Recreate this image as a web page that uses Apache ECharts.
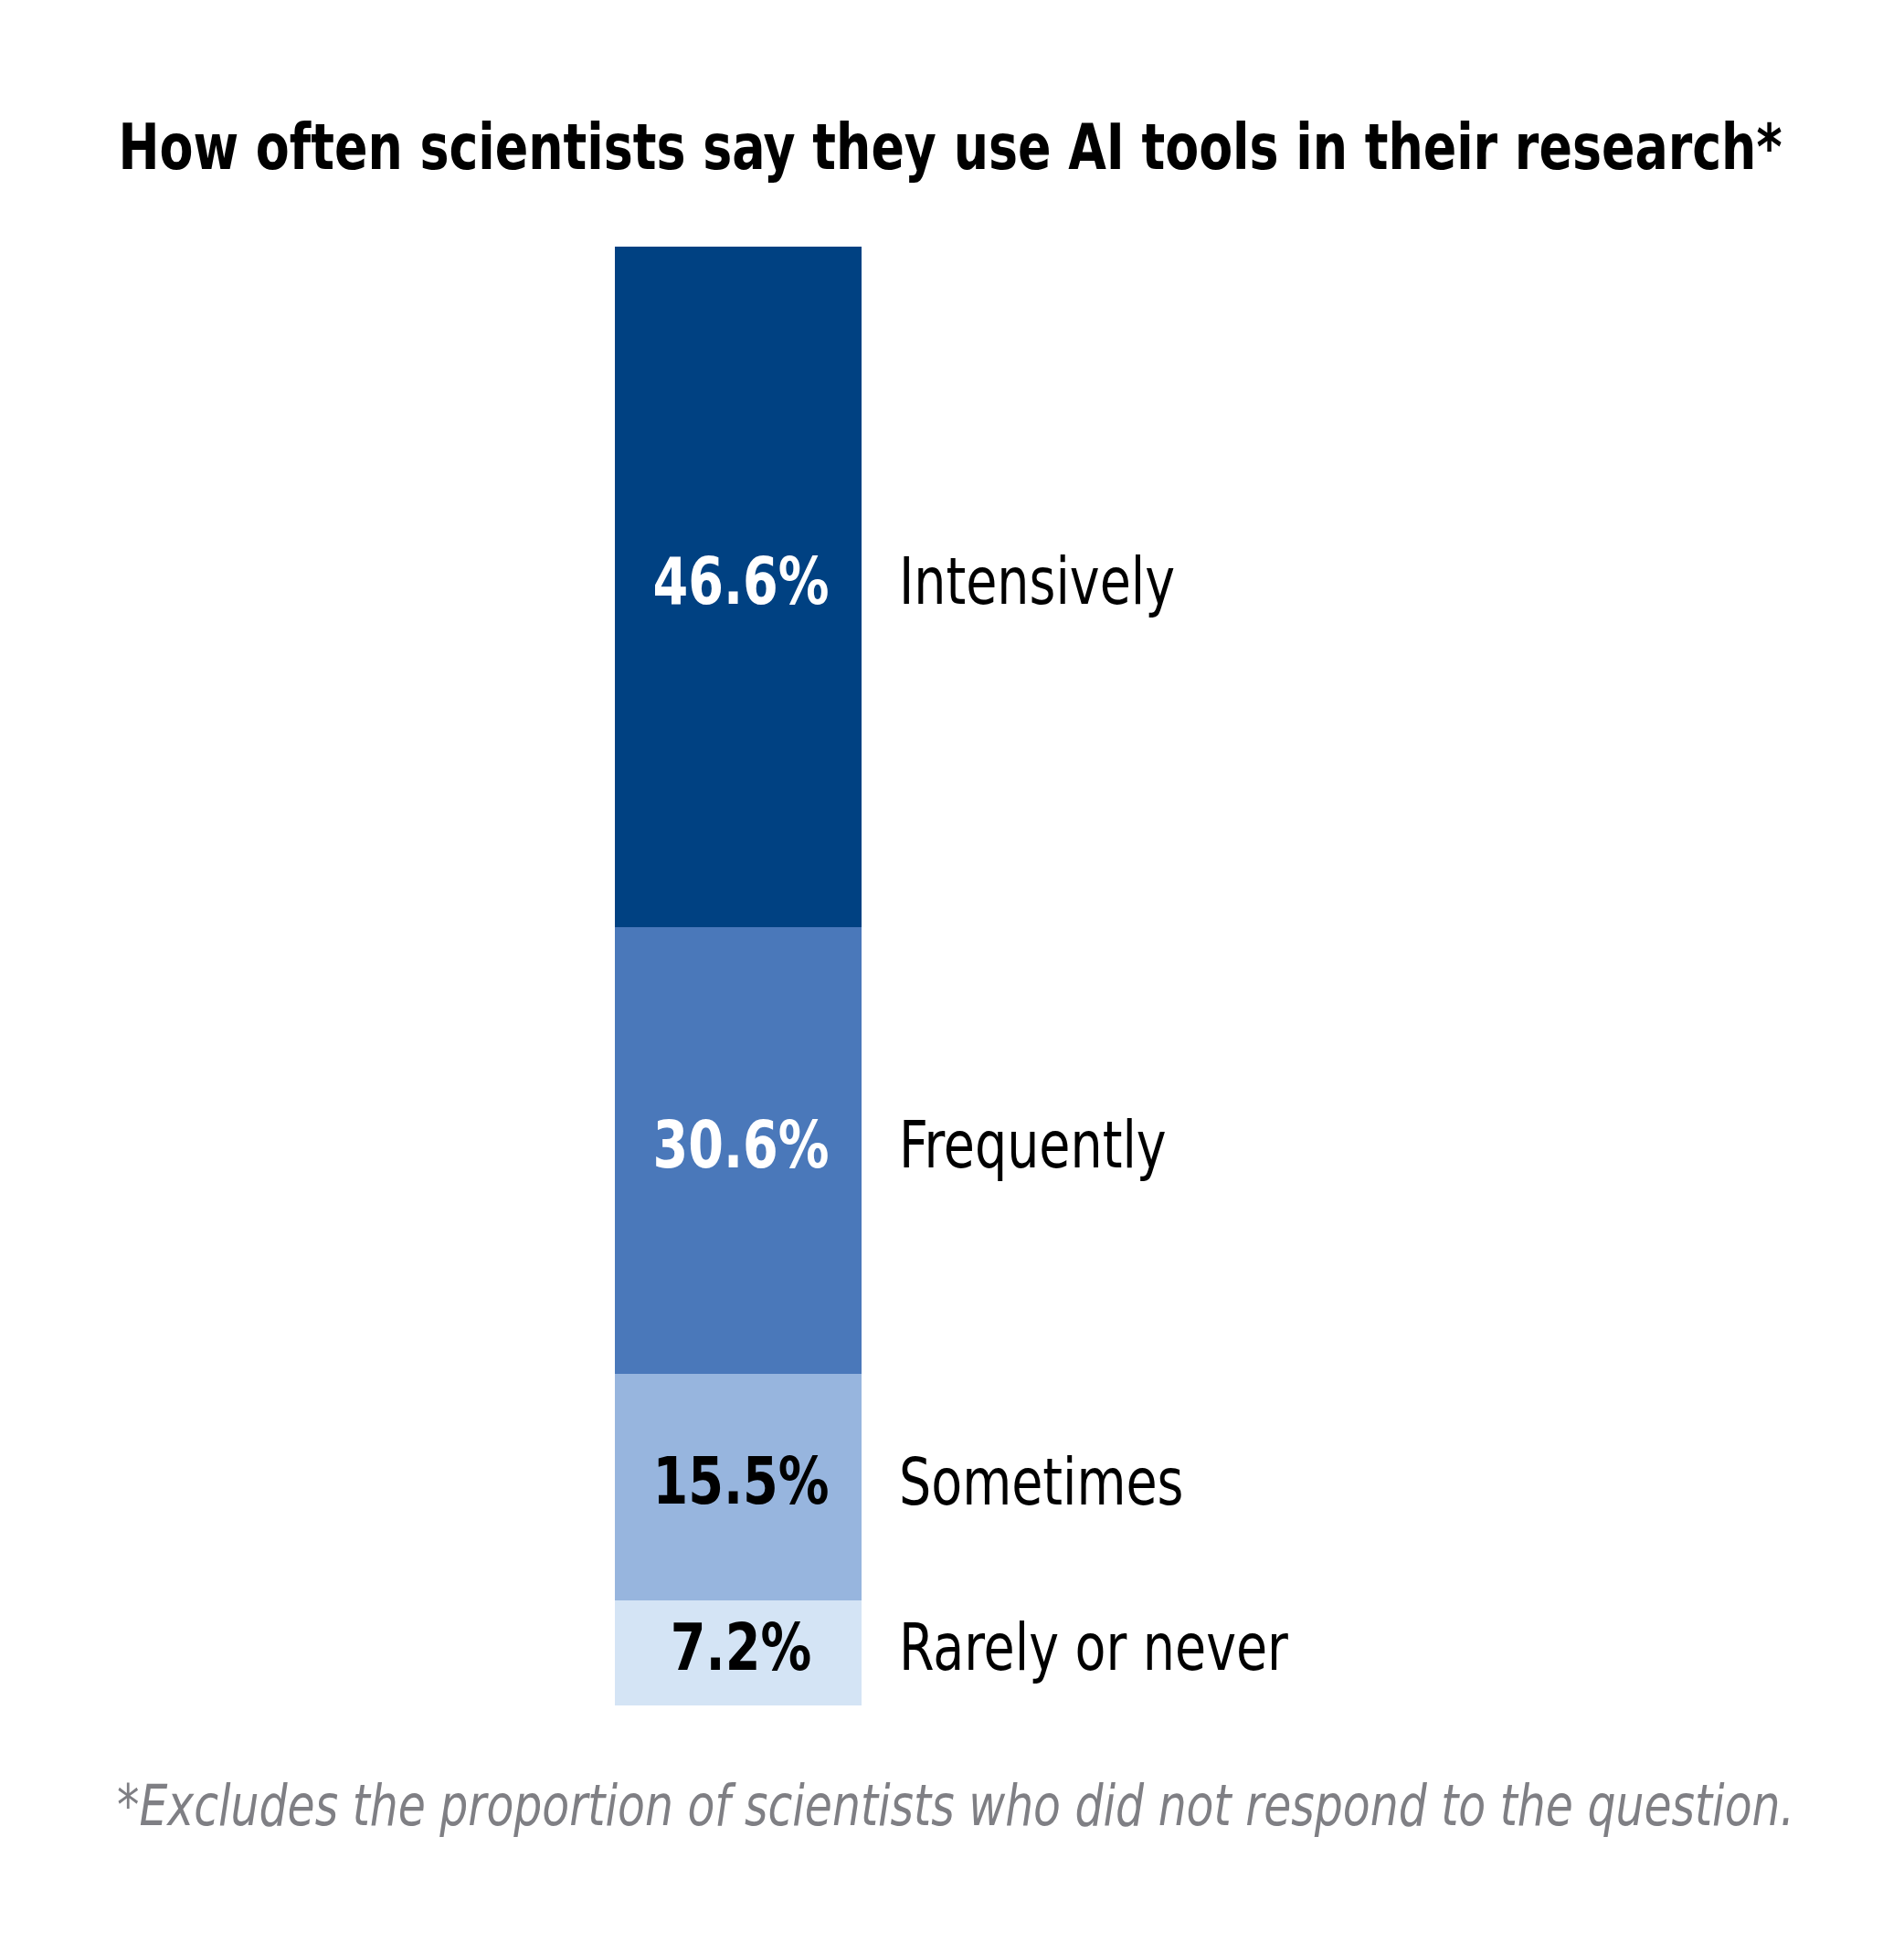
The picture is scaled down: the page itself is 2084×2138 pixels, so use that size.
<!DOCTYPE html>
<html>
<head>
<meta charset="utf-8">
<script src="https://cdn.jsdelivr.net/npm/echarts@6/dist/echarts.min.js"></script>
<style>
  html, body { margin: 0; padding: 0; background: #fff; }
  #main { width: 2084px; height: 2138px; }
</style>
</head>
<body>
<div id="main"></div>
<script>
var FONT = '"DejaVu Sans Condensed", "DejaVu Sans", sans-serif';

var categories = ['Intensively', 'Frequently', 'Sometimes', 'Rarely or never'];
var values = [46.6, 30.6, 15.5, 7.2];
var colors = ['#004182', '#4a78ba', '#97b5de', '#d4e4f5'];
var valueColors = ['#ffffff', '#ffffff', '#000000', '#000000'];

var titleText = 'How often scientists say they use AI tools in their research*';
var noteText = '*Excludes the proportion of scientists who did not respond to the question.';

var total = 0;
values.forEach(function (v) { total += v; });

// the reference uses a condensed face, so squeeze DejaVu horizontally
var measureCtx = document.createElement('canvas').getContext('2d');
function squeeze(text, font, targetWidth) {
  measureCtx.font = font;
  return targetWidth / measureCtx.measureText(text).width;
}
var titleScale = squeeze(titleText, 'normal bold 70px ' + FONT, 1821);
var noteScale = squeeze(noteText, 'italic normal 63px ' + FONT, 1836);
var pctScale = squeeze('46.6%', 'normal bold 71px ' + FONT, 193);
var nameScale = squeeze('Intensively', 'normal normal 72px ' + FONT, 302);

var chart = echarts.init(document.getElementById('main'));

var series = categories.map(function (name, i) {
  return {
    name: name,
    type: 'bar',
    stack: 'all',
    barWidth: '100%',
    data: [values[i]],
    itemStyle: { color: colors[i] },
    label: { show: false }
  };
});

chart.setOption({
  backgroundColor: '#fff',
  animation: false,
  grid: { left: 673, width: 270, top: 270, height: 1597 },
  xAxis: {
    type: 'category',
    data: ['all'],
    show: false
  },
  yAxis: {
    type: 'value',
    min: 0,
    max: total,
    inverse: true,
    show: false
  },
  series: series
});

// segment labels, placed with the chart's own axes
var barX = chart.convertToPixel({ xAxisIndex: 0 }, 'all');
var graphics = [
  {
    type: 'text',
    x: 1040,
    y: 167,
    scaleX: titleScale,
    style: {
      text: titleText,
      fontFamily: FONT,
      fontSize: 70,
      fontWeight: 'bold',
      fill: '#000',
      align: 'center',
      verticalAlign: 'middle'
    }
  },
  {
    type: 'text',
    x: 1046,
    y: 1982,
    scaleX: noteScale,
    style: {
      text: noteText,
      fontFamily: FONT,
      fontSize: 63,
      fontStyle: 'italic',
      fill: '#7f7f84',
      align: 'center',
      verticalAlign: 'middle'
    }
  }
];

var cum = 0;
values.forEach(function (v, i) {
  var y = chart.convertToPixel({ yAxisIndex: 0 }, cum + v / 2);
  cum += v;
  graphics.push({
    type: 'text',
    z: 100,
    x: barX + 3,
    y: y,
    scaleX: pctScale,
    style: {
      text: v.toFixed(1) + '%',
      fontFamily: FONT,
      fontSize: 71,
      fontWeight: 'bold',
      fill: valueColors[i],
      align: 'center',
      verticalAlign: 'middle'
    }
  });
  graphics.push({
    type: 'text',
    z: 100,
    x: barX + 176,
    y: y,
    scaleX: nameScale,
    style: {
      text: categories[i],
      fontFamily: FONT,
      fontSize: 72,
      fill: '#000',
      align: 'left',
      verticalAlign: 'middle'
    }
  });
});

chart.setOption({ graphic: graphics });
</script>
</body>
</html>
